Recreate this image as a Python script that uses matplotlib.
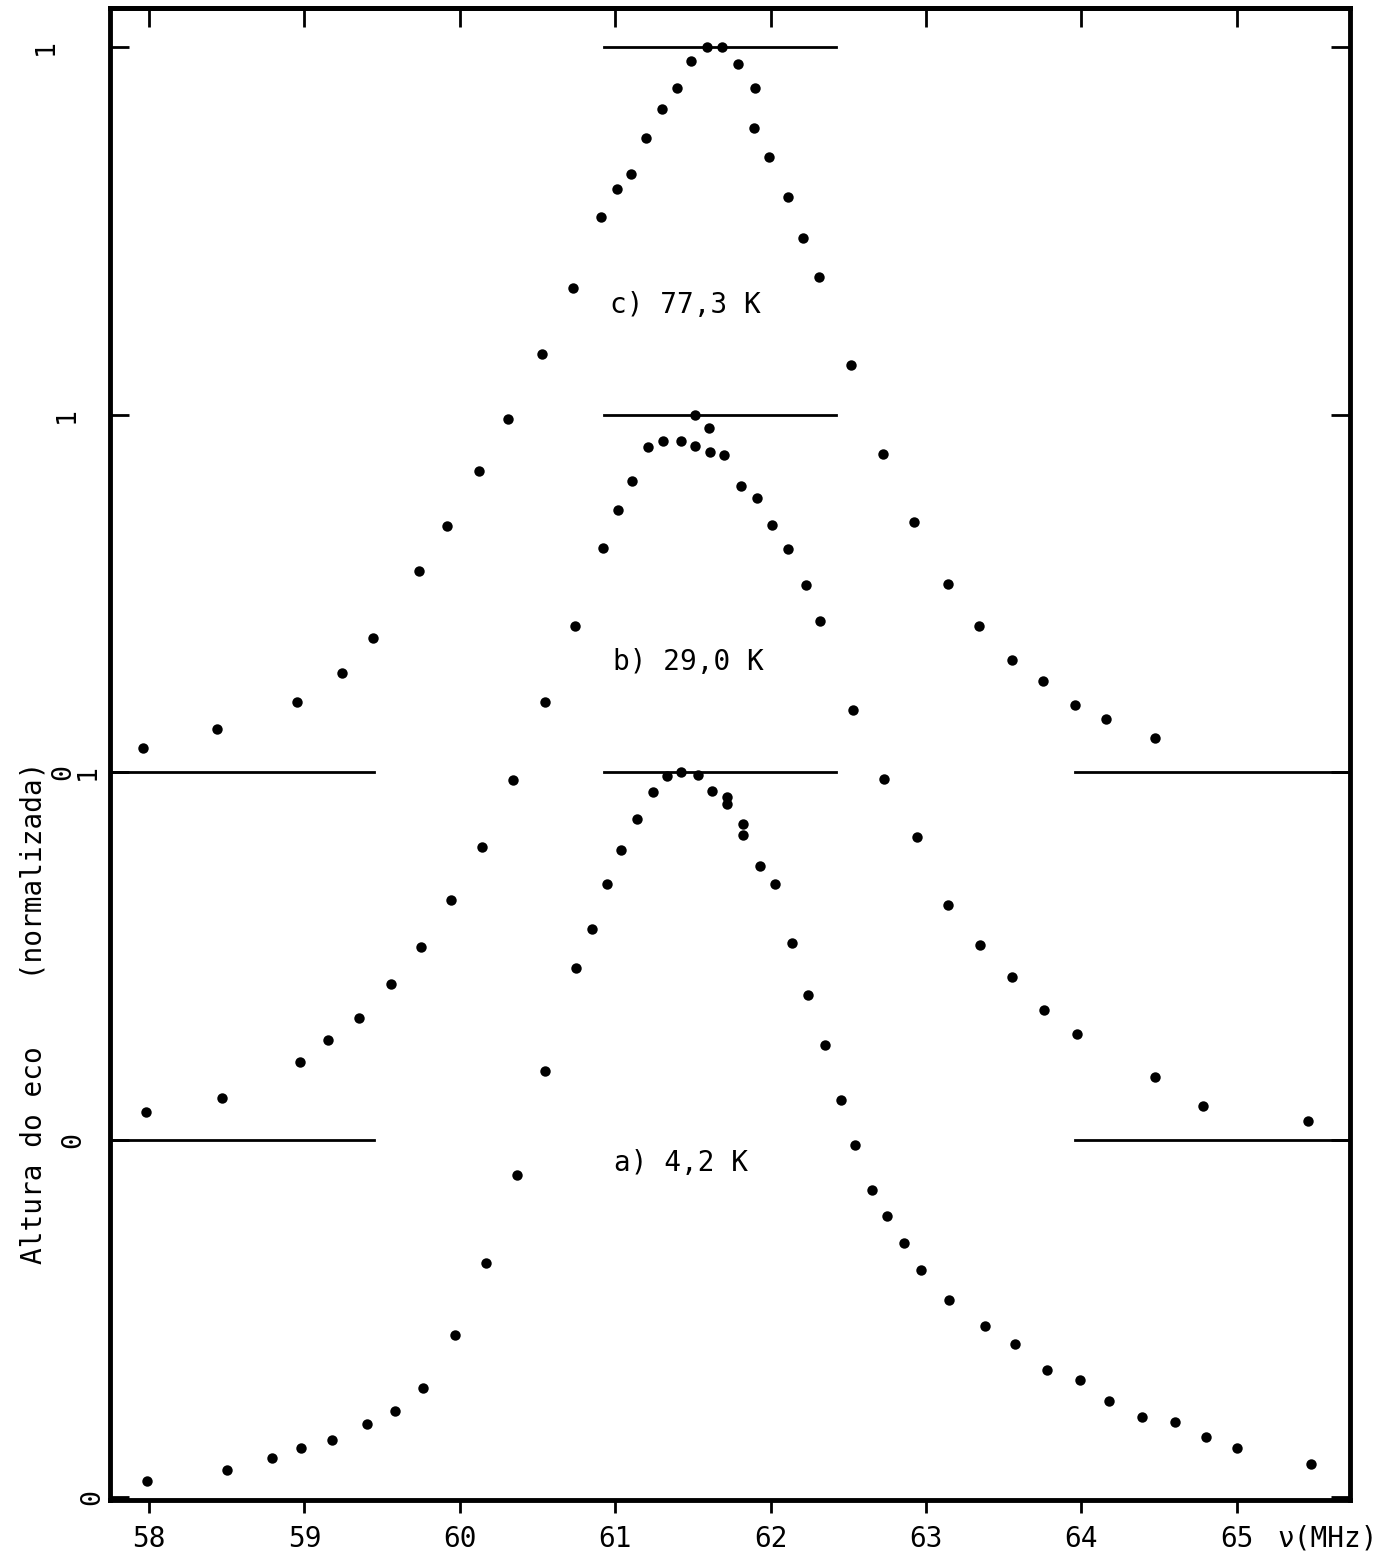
import matplotlib.pyplot as plt

# eco normalizado, a) 4,2 K
freq_a = [57.99, 58.50, 58.79, 58.98, 59.18, 59.40, 59.58, 59.76, 59.97, 60.17,
          60.37, 60.55, 60.75, 60.85, 60.95, 61.04, 61.14, 61.24, 61.33, 61.42,
          61.53, 61.62, 61.72, 61.72, 61.82, 61.82, 61.93, 62.03, 62.14, 62.24,
          62.35, 62.45, 62.54, 62.65, 62.75, 62.86, 62.97, 63.15, 63.38, 63.57,
          63.78, 63.99, 64.18, 64.39, 64.60, 64.80, 65.00, 65.48]
eco_a = [0.022, 0.037, 0.054, 0.067, 0.078, 0.101, 0.119, 0.151, 0.223, 0.323,
         0.444, 0.588, 0.730, 0.784, 0.845, 0.893, 0.935, 0.972, 0.994, 1.000,
         0.996, 0.974, 0.965, 0.956, 0.928, 0.913, 0.870, 0.846, 0.764, 0.692,
         0.623, 0.548, 0.485, 0.424, 0.387, 0.350, 0.313, 0.272, 0.236, 0.211,
         0.175, 0.162, 0.132, 0.110, 0.103, 0.083, 0.067, 0.046]

# b) 29,0 K
freq_b = [57.98, 58.47, 58.97, 59.15, 59.35, 59.56, 59.75, 59.94, 60.14, 60.34,
          60.55, 60.74, 60.92, 61.02, 61.11, 61.21, 61.31, 61.42, 61.51, 61.51,
          61.60, 61.61, 61.70, 61.81, 61.91, 62.01, 62.11, 62.23, 62.32, 62.53,
          62.73, 62.94, 63.14, 63.35, 63.55, 63.76, 63.97, 64.47, 64.78, 65.46]
eco_b = [0.038, 0.058, 0.107, 0.137, 0.168, 0.214, 0.266, 0.331, 0.404, 0.496,
         0.604, 0.709, 0.816, 0.868, 0.909, 0.955, 0.964, 0.964, 0.957, 1.000,
         0.981, 0.948, 0.945, 0.902, 0.885, 0.848, 0.815, 0.765, 0.716, 0.592,
         0.497, 0.418, 0.323, 0.269, 0.224, 0.179, 0.146, 0.087, 0.047, 0.026]

# c) 77,3 K
freq_c = [57.96, 58.44, 58.95, 59.24, 59.44, 59.74, 59.92, 60.12, 60.31, 60.53,
          60.73, 60.91, 61.01, 61.10, 61.20, 61.30, 61.40, 61.49, 61.59, 61.69,
          61.79, 61.90, 61.89, 61.99, 62.11, 62.21, 62.31, 62.52, 62.72, 62.92,
          63.14, 63.34, 63.55, 63.75, 63.96, 64.16, 64.47]
eco_c = [0.033, 0.060, 0.096, 0.137, 0.185, 0.278, 0.339, 0.415, 0.487, 0.576,
         0.668, 0.765, 0.804, 0.825, 0.874, 0.914, 0.944, 0.981, 1.000, 1.000,
         0.977, 0.943, 0.888, 0.848, 0.793, 0.737, 0.683, 0.562, 0.439, 0.345,
         0.259, 0.202, 0.155, 0.126, 0.093, 0.073, 0.047]

labels = ['a) 4,2 K', 'b) 29,0 K', 'c) 77,3 K']
shifts = [0.0, 0.493, 1.0]   # deslocamento vertical de cada curva

mono = 'DejaVu Sans Mono'
xmin, xmax = 57.749, 65.728

fig = plt.figure(figsize=(14, 15.6), dpi=100)
ax = fig.add_axes([0.0786, 0.0385, 0.8857, 0.9564])

curves = [(freq_a, eco_a), (freq_b, eco_b), (freq_c, eco_c)]
label_pos = [(61.42, 0.461), (61.47, 0.659), (61.45, 0.644)]
for (f, e), s, lab, (lx, ly) in zip(curves, shifts, labels, label_pos):
    ax.plot(f, [v + s for v in e], 'o', color='k', ms=7.5, mec='none')
    # nivel 1 de cada curva
    ax.plot([60.93, 62.42], [s + 1, s + 1], color='k', lw=2)
    # nivel 0 (a curva a usa o proprio eixo)
    if s > 0:
        ax.plot([xmin, 59.45], [s, s], color='k', lw=2)
        ax.plot([63.96, xmax], [s, s], color='k', lw=2)
    ax.text(lx, s + ly, lab, ha='center', va='center', family=mono, fontsize=20)

ax.set_xlim(xmin, xmax)
ax.set_ylim(-0.004, 2.054)

ax.set_xticks(range(58, 66))
ax.set_xticklabels([str(v) for v in range(58, 66)], family=mono)
ax.tick_params(axis='x', direction='out', length=9, width=2, pad=9, labelsize=20)

top = ax.secondary_xaxis('top')
top.set_xticks(range(58, 66))
top.tick_params(direction='in', length=14, width=2, labeltop=False)
top.spines['top'].set_linewidth(3.5)

yt = [0.0, shifts[1], 1.0, shifts[1] + 1, 2.0]
ax.set_yticks(yt)
ax.tick_params(axis='y', direction='in', left=True, right=True, length=14,
               width=2, labelleft=False)

# rotulos do eixo y escritos a mao em cada nivel
ytr = ax.get_yaxis_transform()
for xa, ya, t in [(-0.014, 0.0, '0'), (-0.030, shifts[1], '0'),
                  (-0.038, 1.0, '0'), (-0.018, 1.0, '1'),
                  (-0.035, shifts[1] + 1, '1'), (-0.052, 2.0, '1')]:
    ax.text(xa, ya, t, transform=ytr, rotation=90, ha='center', va='center',
            family=mono, fontsize=19)

for sp in ax.spines.values():
    sp.set_linewidth(3.5)

fig.text(0.024, 0.3506, 'Altura do eco    (normalizada)', rotation=90,
         ha='center', va='center', family=mono, fontsize=20)
fig.text(0.9486, 0.0135, '\u03bd(MHz)', ha='center', va='center',
         family=mono, fontsize=20)

fig.savefig('out.png', dpi=100)
